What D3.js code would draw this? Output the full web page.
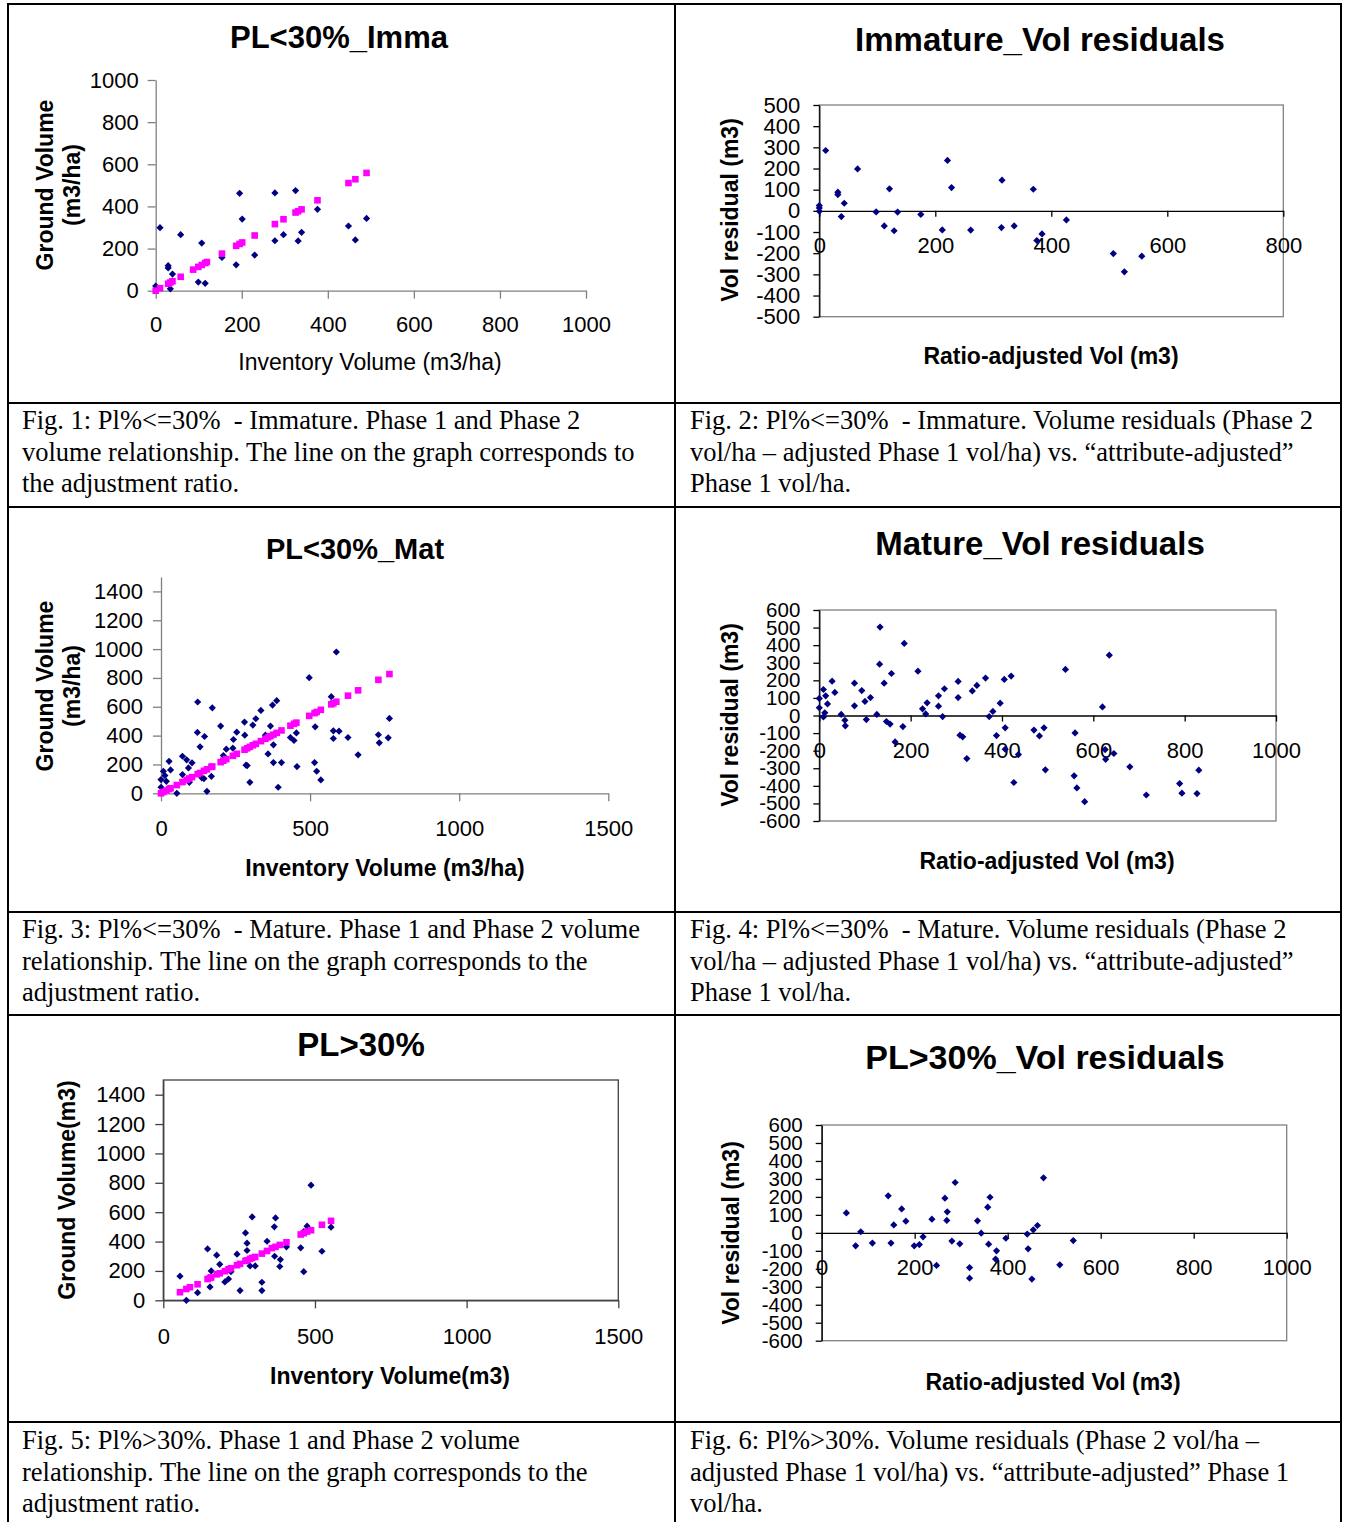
<!DOCTYPE html>
<html>
<head>
<meta charset="utf-8">
<script src="https://cdn.jsdelivr.net/npm/d3@7"></script>
<style>
  body { margin: 0; background: #fff; }
  svg { display: block; }
</style>
</head>
<body>
<div id="chart"></div>
<script>
// ---- data ----
// Fig 1: PL<30% Immature (blue = observations, magenta = ratio line)
var p1X = [0,10,29,29,39,34,58,99,115,107,154,187,195,201,230,277,277,297,325,331,339,376,448,464,490];
var p1Y = [22,299,119,108,79,9,266,41,35,226,158,123,462,340,169,464,237,266,475,236,277,386,307,241,343];
var p1LineX = [0,10,29,34,39,58,87,99,107,115,119,154,187,195,201,230,277,297,325,331,339,376,448,464,490];
var p1LineY = [0,12,33,39,45,66,100,113,122,131,136,176,213,222,229,262,316,339,371,377,386,429,511,529,559];

// Fig 2: Immature residuals
var p2X = [0,0,0,11,32,32,43,38,66,98,112,121,129,135,175,212,221,228,261,314,315,336,369,375,384,426,507,526,556];
var p2Y = [25,14,-2,285,88,77,36,-27,198,-5,-71,104,-94,-6,-17,-90,238,110,-91,-79,145,-71,102,-140,-109,-43,-202,-288,-214];

// Fig 3: PL<30% Mature
var p3X = [0,0,8,13,18,27,32,53,72,72,86,92,95,104,123,122,131,137,144,146,154,169,172,200,209,219,241,243,254,280,281,285,289,298,308,318,335,350,359,367,374,377,377,388,393,404,434,446,454,456,497,515,517,522,536,571,578,578,588,597,627,661,729,732,762,766];
var p3Y = [95,42,153,123,83,222,162,0,257,130,232,176,76,211,633,422,322,107,102,394,14,118,593,466,262,306,313,373,424,494,403,195,192,76,473,517,575,403,273,466,612,336,213,642,42,213,387,366,419,185,802,213,461,153,93,670,433,380,980,431,387,267,406,350,385,519];
var p3LineX = [0,8,18,27,32,53,72,86,95,104,123,131,144,154,169,172,200,209,219,241,254,280,289,298,308,318,335,350,359,367,377,388,404,434,446,454,497,515,522,536,571,578,588,627,661,729,766];
var p3LineY = [0,9,19,29,35,57,78,93,103,112,133,141,156,166,183,186,216,226,237,260,274,302,312,322,333,343,362,378,388,396,407,419,436,469,482,490,537,556,564,579,617,624,635,677,714,787,827];

// Fig 4: Mature residuals
var p4X = [0,0,9,9,12,14,18,28,34,48,56,57,77,77,93,100,103,112,126,132,133,142,147,155,158,166,183,186,216,226,233,236,261,261,270,274,304,304,308,314,323,335,345,364,372,380,388,396,405,407,407,420,426,436,470,482,492,495,539,560,558,564,581,620,626,627,635,645,680,716,789,794,827,831];
var p4Y = [97,44,148,-8,15,112,66,195,131,6,-27,-59,184,55,142,80,-23,102,6,292,503,184,-34,-49,239,-150,-63,410,252,38,9,72,112,53,-6,152,194,102,-112,-121,-245,140,171,213,-6,23,-114,70,205,-70,-192,224,-381,-222,-83,-116,-70,-309,262,-99,-343,-412,-490,49,-194,-249,343,-216,-292,-452,-387,-442,-444,-311];

// Fig 5: PL>30%
var p5X = [55,76,113,146,154,158,176,186,203,215,223,243,253,271,276,276,286,293,303,325,325,342,366,367,370,384,386,406,453,463,463,474,487,523,553];
var p5Y = [164,0,52,350,91,200,307,245,125,145,195,314,66,459,389,339,234,568,234,123,66,402,500,300,561,230,277,364,357,195,468,505,784,334,498];
var p5LineX = [55,76,88,113,146,154,158,176,186,203,215,223,243,253,271,276,286,293,303,325,342,358,370,384,406,453,463,474,487,523,553];
var p5LineY = [55,77,89,109,145,152,156,177,184,198,211,218,239,248,268,272,282,289,295,318,336,355,364,377,395,448,457,468,477,514,541];

// Fig 6: PL>30% residuals
var p6X = [53,73,84,109,143,149,155,172,181,199,210,218,237,247,265,270,269,280,287,297,318,318,335,343,357,362,359,374,376,396,442,444,452,455,464,477,512,541];
var p6Y = [111,-72,6,-57,206,-57,44,133,65,-72,-65,-22,76,-181,193,117,69,-46,280,-61,-193,-252,67,-2,143,198,-63,-146,-100,-30,-7,-89,-257,17,41,306,-178,-43];

// tick values
var ticks0to1000 = [0,200,400,600,800,1000];
var ticks0to800 = [0,200,400,600,800];
var ticks0to1500 = [0,500,1000,1500];
var ticks0to1400 = [0,200,400,600,800,1000,1200,1400];
var ticksRes500 = [500,400,300,200,100,0,-100,-200,-300,-400,-500];
var ticksRes600 = [600,500,400,300,200,100,0,-100,-200,-300,-400,-500,-600];

// text
var titles = ["PL<30%_Imma", "Immature_Vol residuals", "PL<30%_Mat", "Mature_Vol residuals", "PL>30%", "PL>30%_Vol residuals"];
var captions = [
  ["Fig. 1: Pl%<=30%  - Immature. Phase 1 and Phase 2", "volume relationship. The line on the graph corresponds to", "the adjustment ratio."],
  ["Fig. 2: Pl%<=30%  - Immature. Volume residuals (Phase 2", "vol/ha \u2013 adjusted Phase 1 vol/ha) vs. \u201cattribute-adjusted\u201d", "Phase 1 vol/ha."],
  ["Fig. 3: Pl%<=30%  - Mature. Phase 1 and Phase 2 volume", "relationship. The line on the graph corresponds to the", "adjustment ratio."],
  ["Fig. 4: Pl%<=30%  - Mature. Volume residuals (Phase 2", "vol/ha \u2013 adjusted Phase 1 vol/ha) vs. \u201cattribute-adjusted\u201d", "Phase 1 vol/ha."],
  ["Fig. 5: Pl%>30%. Phase 1 and Phase 2 volume", "relationship. The line on the graph corresponds to the", "adjustment ratio."],
  ["Fig. 6: Pl%>30%. Volume residuals (Phase 2 vol/ha \u2013", "adjusted Phase 1 vol/ha) vs. \u201cattribute-adjusted\u201d Phase 1", "vol/ha."]
];

var W = 1345, H = 1522;
var sans = "'Liberation Sans', Arial, Helvetica, sans-serif";
var serif = "'Liberation Serif', 'Times New Roman', serif";
var plain = function(d) { return String(d); };  // 1000 not 1,000 ; hyphen minus

var svg = d3.select("#chart").append("svg")
    .attr("width", W)
    .attr("height", H);

// table grid
var hLines = [4, 403, 507, 912, 1015, 1422];
var vLines = [8, 675, 1341];
hLines.forEach(function(y) {
  svg.append("line").attr("x1", 7).attr("x2", 1342).attr("y1", y).attr("y2", y)
    .attr("stroke", "#000").attr("stroke-width", 2);
});
vLines.forEach(function(x) {
  svg.append("line").attr("x1", x).attr("x2", x).attr("y1", 3).attr("y2", H)
    .attr("stroke", "#000").attr("stroke-width", 2);
});

// captions
var capPos = [[22, 429], [690, 429], [22, 938], [690, 938], [22, 1449], [690, 1449]];
captions.forEach(function(lines, i) {
  var t = svg.append("text")
      .attr("font-family", serif)
      .attr("font-size", 26.5)
      .style("white-space", "pre")
      .attr("fill", "#000");
  lines.forEach(function(s, k) {
    t.append("tspan").attr("x", capPos[i][0]).attr("y", capPos[i][1] + k * 31.5).text(s);
  });
});

var diamond = "M0,-3.6L3.6,0L0,3.6L-3.6,0Z";

function drawPanel(c) {
  var g = svg.append("g");
  var x = d3.scaleLinear().domain(c.xDomain).range([c.x0, c.x1]);
  var y = d3.scaleLinear().domain(c.yDomain).range([c.y0, c.y1]);

  if (c.box) {
    g.append("rect")
      .attr("x", c.x0).attr("y", c.y1)
      .attr("width", c.x1 - c.x0).attr("height", c.y0 - c.y1)
      .attr("fill", "none").attr("stroke", c.boxColor).attr("stroke-width", 1.3);
  }

  var ya = g.append("g")
      .attr("transform", "translate(" + c.x0 + ",0)")
      .call(d3.axisLeft(y).tickValues(c.yTicks).tickFormat(plain)
        .tickSize(c.tick).tickSizeOuter(0).tickPadding(c.yPad));
  var xa = g.append("g")
      .attr("transform", "translate(0," + (c.resid ? y(0) : c.y0) + ")")
      .call(d3.axisBottom(x).tickValues(c.xTicks).tickFormat(plain)
        .tickSize(c.tick).tickSizeOuter(0).tickPadding(c.xPad));

  ya.attr("font-size", c.yTickFont || c.tickFont);
  xa.attr("font-size", c.tickFont);
  [ya, xa].forEach(function(a) {
    a.attr("font-family", sans);
    a.selectAll("text").attr("fill", "#000");
    a.select(".domain").attr("stroke", c.axisColor).attr("stroke-width", 1.3);
    a.selectAll(".tick line").attr("stroke", c.axisColor).attr("stroke-width", 1.3);
  });

  // observations
  g.append("g").selectAll("path")
    .data(c.xs.map(function(v, i) { return [v, c.ys[i]]; }))
    .enter().append("path")
      .attr("d", diamond)
      .attr("transform", function(d) { return "translate(" + x(d[0]) + "," + y(d[1]) + ")"; })
      .attr("fill", "#000080");

  // adjustment ratio line (magenta squares)
  if (c.lx) {
    g.append("g").selectAll("rect")
      .data(c.lx.map(function(v, i) { return [v, c.ly[i]]; }))
      .enter().append("rect")
        .attr("x", function(d) { return x(d[0]) - 3.3; })
        .attr("y", function(d) { return y(d[1]) - 3.3; })
        .attr("width", 6.6).attr("height", 6.6)
        .attr("fill", "#ff00ff");
  }

  // chart title
  g.append("text")
    .attr("x", c.title[0]).attr("y", c.title[1])
    .attr("text-anchor", "middle")
    .attr("font-family", sans).attr("font-weight", "bold").attr("font-size", c.titleSize)
    .text(c.titleText);

  // x title
  g.append("text")
    .attr("x", c.xTitle[0]).attr("y", c.xTitle[1])
    .attr("text-anchor", "middle")
    .attr("font-family", sans).attr("font-weight", c.xBold ? "bold" : "normal")
    .attr("font-size", c.labelSize)
    .text(c.xLabel);

  // y title (one or two lines, rotated)
  c.yLabel.forEach(function(s, k) {
    g.append("text")
      .attr("transform", "translate(" + (c.yTitle[0] + k * 27) + "," + c.yTitle[1] + ")rotate(-90)")
      .attr("text-anchor", "middle")
      .attr("font-family", sans).attr("font-weight", "bold").attr("font-size", c.labelSize)
      .text(s);
  });
}

drawPanel({
  x0: 155.7, x1: 586, y0: 290.7, y1: 80,
  xDomain: [0, 1000], yDomain: [0, 1000],
  xTicks: ticks0to1000, yTicks: ticks0to1000,
  tick: 8, xPad: 18, yPad: 9, tickFont: 22,
  axisColor: "#808080", box: false,
  xs: p1X, ys: p1Y, lx: p1LineX, ly: p1LineY,
  titleText: titles[0], title: [339, 48], titleSize: 31,
  xLabel: "Inventory Volume (m3/ha)", xTitle: [370, 370], xBold: false,
  yLabel: ["Ground Volume", "(m3/ha)"], yTitle: [53, 185], labelSize: 23
});

drawPanel({
  x0: 819.3, x1: 1283.3, y0: 316.7, y1: 105,
  xDomain: [0, 800], yDomain: [-500, 500],
  xTicks: ticks0to800, yTicks: ticksRes500, resid: true,
  tick: 6, xPad: 21, yPad: 13, tickFont: 22,
  axisColor: "#000", box: true, boxColor: "#808080",
  xs: p2X, ys: p2Y,
  titleText: titles[1], title: [1040, 51], titleSize: 33,
  xLabel: "Ratio-adjusted Vol (m3)", xTitle: [1051, 364], xBold: true,
  yLabel: ["Vol residual (m3)"], yTitle: [738, 210], labelSize: 23
});

drawPanel({
  x0: 161, x1: 608.3, y0: 793.3, y1: 577,
  xDomain: [0, 1500], yDomain: [0, 1500],
  xTicks: ticks0to1500, yTicks: ticks0to1400,
  tick: 8, xPad: 19, yPad: 10, tickFont: 22,
  axisColor: "#808080", box: false,
  xs: p3X, ys: p3Y, lx: p3LineX, ly: p3LineY,
  titleText: titles[2], title: [355, 559], titleSize: 29,
  xLabel: "Inventory Volume (m3/ha)", xTitle: [385, 876], xBold: true,
  yLabel: ["Ground Volume", "(m3/ha)"], yTitle: [53, 686], labelSize: 23
});

drawPanel({
  x0: 819.3, x1: 1276, y0: 821, y1: 610,
  xDomain: [0, 1000], yDomain: [-600, 600],
  xTicks: ticks0to1000, yTicks: ticksRes600, resid: true,
  tick: 6, xPad: 21, yPad: 13, tickFont: 22, yTickFont: 20.5,
  axisColor: "#000", box: true, boxColor: "#808080",
  xs: p4X, ys: p4Y,
  titleText: titles[3], title: [1040, 555], titleSize: 33,
  xLabel: "Ratio-adjusted Vol (m3)", xTitle: [1047, 869], xBold: true,
  yLabel: ["Vol residual (m3)"], yTitle: [738, 715], labelSize: 23
});

drawPanel({
  x0: 163.3, x1: 618.3, y0: 1300.3, y1: 1080,
  xDomain: [0, 1500], yDomain: [0, 1500],
  xTicks: ticks0to1500, yTicks: ticks0to1400,
  tick: 8, xPad: 20, yPad: 10, tickFont: 22,
  axisColor: "#404040", box: true, boxColor: "#404040",
  xs: p5X, ys: p5Y, lx: p5LineX, ly: p5LineY,
  titleText: titles[4], title: [361, 1056], titleSize: 33,
  xLabel: "Inventory Volume(m3)", xTitle: [390, 1384], xBold: true,
  yLabel: ["Ground Volume(m3)"], yTitle: [75, 1190], labelSize: 23
});

drawPanel({
  x0: 821.7, x1: 1286.7, y0: 1340.7, y1: 1125,
  xDomain: [0, 1000], yDomain: [-600, 600],
  xTicks: ticks0to1000, yTicks: ticksRes600, resid: true,
  tick: 6, xPad: 21, yPad: 13, tickFont: 22, yTickFont: 20.5,
  axisColor: "#000", box: true, boxColor: "#808080",
  xs: p6X, ys: p6Y,
  titleText: titles[5], title: [1045, 1069], titleSize: 34,
  xLabel: "Ratio-adjusted Vol (m3)", xTitle: [1053, 1390], xBold: true,
  yLabel: ["Vol residual (m3)"], yTitle: [739, 1233], labelSize: 23
});
</script>
</body>
</html>
